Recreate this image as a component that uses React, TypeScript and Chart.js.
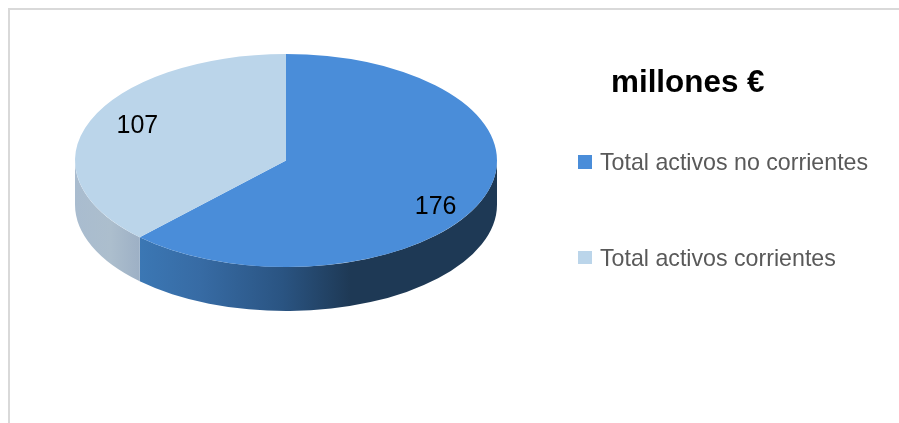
import React, { useEffect, useRef } from "react";
import { Chart, registerables } from "chart.js";

Chart.register(...registerables);

const categories = ["Total activos no corrientes", "Total activos corrientes"];
const values = [176, 107];
const colors = ["#4a8dd9", "#bbd5ea"];
const titleText = "millones €";

const FONT = '"Liberation Sans", Arial, sans-serif';
const Y_SCALE = 106.5 / 211;
const CENTER_Y = 160.5;
const DEPTH = 44;
const sideStops: [string, string][] = [
  ["#3b77b4", "#1e3955"],
  ["#a9bccf", "#9db0c5"],
];
const labelNudges = [
  [-3, 15.5],
  [4, -3.5],
];
const legendRows = [162, 258];

const pie3d = {
  id: "pie3d",
  beforeDatasetsDraw(chart: any) {
    const { ctx } = chart;
    const arcs = chart.getDatasetMeta(0).data;
    const a0 = arcs[0];
    ctx.save();
    arcs.forEach((arc: any, i: number) => {
      const s = Math.max(arc.startAngle, 0);
      const e = Math.min(arc.endAngle, Math.PI);
      const rx = arc.outerRadius;
      const ry = rx * Y_SCALE;
      const visStart = i === 0 ? 0 : s;
      const visEnd = i === 0 ? e : Math.PI;
      const xL = arc.x + rx * Math.cos(visEnd);
      const xR = arc.x + rx * Math.cos(visStart);
      const g = ctx.createLinearGradient(xL, 0, xR, 0);
      if (i === 0) {
        g.addColorStop(0, sideStops[0][0]);
        g.addColorStop(0.17, "#376ba4");
        g.addColorStop(0.4, "#2a5482");
        g.addColorStop(0.59, sideStops[0][1]);
        g.addColorStop(1, sideStops[0][1]);
      } else {
        g.addColorStop(0, sideStops[1][0]);
        g.addColorStop(0.55, "#acbecd");
        g.addColorStop(1, sideStops[1][1]);
      }
      ctx.beginPath();
      ctx.ellipse(arc.x, CENTER_Y, rx, ry, 0, visStart, visEnd, false);
      ctx.ellipse(arc.x, CENTER_Y + DEPTH, rx, ry, 0, visEnd, visStart, true);
      ctx.closePath();
      ctx.fillStyle = g;
      ctx.fill();
    });
    ctx.restore();
    ctx.save();
    ctx.translate(0, CENTER_Y);
    ctx.scale(1, Y_SCALE);
    ctx.translate(0, -a0.y);
  },
  afterDatasetsDraw(chart: any) {
    const { ctx } = chart;
    ctx.restore();
    const arcs = chart.getDatasetMeta(0).data;
    ctx.save();
    ctx.fillStyle = "#000000";
    ctx.font = `25px ${FONT}`;
    ctx.textAlign = "center";
    ctx.textBaseline = "middle";
    arcs.forEach((arc: any, i: number) => {
      const mid = (arc.startAngle + arc.endAngle) / 2;
      const rx = arc.outerRadius;
      const x = arc.x + rx * 0.78 * Math.cos(mid) + labelNudges[i][0];
      const y = CENTER_Y + rx * Y_SCALE * 0.78 * Math.sin(mid) + labelNudges[i][1];
      ctx.fillText(String(values[i]), x, y);
    });
    ctx.textAlign = "left";
    ctx.fillStyle = "#000000";
    ctx.font = `bold 31.4px ${FONT}`;
    ctx.fillText(titleText, 611, 83);
    ctx.font = `23.2px ${FONT}`;
    categories.forEach((c, i) => {
      const y = legendRows[i];
      ctx.fillStyle = colors[i];
      ctx.fillRect(578, y - 7, 14, i === 0 ? 14 : 13);
      ctx.fillStyle = "#595959";
      ctx.fillText(c, 600, y + 2);
    });
    ctx.restore();
  },
};

export default function App() {
  const ref = useRef<HTMLCanvasElement | null>(null);
  useEffect(() => {
    const chart = new Chart(ref.current as HTMLCanvasElement, {
      type: "pie",
      data: {
        labels: categories,
        datasets: [{ data: values, backgroundColor: colors, borderWidth: 0 }],
      },
      options: {
        animation: false,
        responsive: false,
        devicePixelRatio: 1,
        rotation: 0,
        layout: { padding: { left: 75, right: 402, top: 0, bottom: 1 } },
        plugins: { legend: { display: false }, title: { display: false }, tooltip: { enabled: false } },
      },
      plugins: [pie3d],
    } as any);
    return () => chart.destroy();
  }, []);
  return (
    <div style={{ position: "fixed", left: 0, top: 0, width: 899, height: 423, background: "#fff", overflow: "hidden" }}>
      <div style={{ position: "absolute", left: 8, top: 8, right: 0, bottom: 0, borderLeft: "2px solid #d9d9d9", borderTop: "2px solid #d9d9d9" }} />
      <canvas ref={ref} width={899} height={423} style={{ position: "absolute", left: 0, top: 0, display: "block" }} />
    </div>
  );
}
